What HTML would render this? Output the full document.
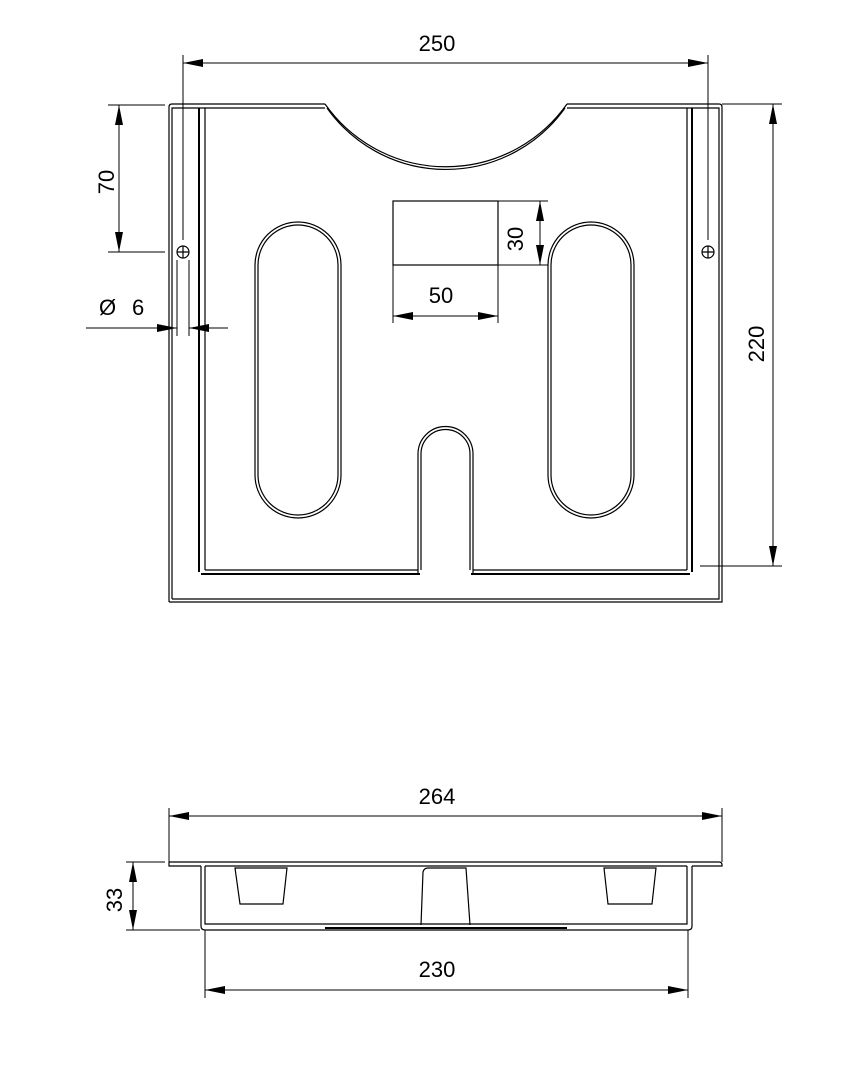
<!DOCTYPE html>
<html><head><meta charset="utf-8"><style>
html,body{margin:0;padding:0;background:#fff;}
svg{display:block}
text{font-family:"Liberation Sans",sans-serif;font-size:22px;fill:#000}
</style></head><body>
<svg width="842" height="1087" viewBox="0 0 842 1087" xmlns="http://www.w3.org/2000/svg">
<defs>
<marker id="a" viewBox="0 0 20 8" refX="20" refY="4" markerWidth="20" markerHeight="8" markerUnits="userSpaceOnUse" orient="auto-start-reverse"><path d="M0,0 L20,4 L0,8 z" fill="#000"/></marker>
</defs>
<g fill="none" stroke="#000" stroke-width="1.2">
<!-- top view outer flange -->
<path d="M169,602 V107 Q169,104 172,104 H325"/>
<path d="M172,599 V108 H325"/>
<path d="M567,104 H719 Q722,104 722,107 V602 H169"/>
<path d="M567,108 H719 V599 H172"/>
<path d="M325,104 A148,148 0 0 0 567,104"/>
<path d="M327,108 A146,146 0 0 0 565,108"/>
<!-- inner tray -->
<path d="M199,108 V572" stroke-width="2"/>
<path d="M205,108 V570"/>
<path d="M687,108 V570"/>
<path d="M692,108 V572" stroke-width="2"/>
<path d="M201,574 H420 M471,574 H690" stroke-width="2"/>
<path d="M205,570 H418 M473,570 H687"/>
<!-- slots -->
<path d="M255,265 A43,43 0 0 1 341,265 V475 A43,43 0 0 1 255,475 Z"/>
<path d="M258,265 A40,40 0 0 1 338,265 V475 A40,40 0 0 1 258,475 Z"/>
<path d="M548,265 A43,43 0 0 1 634,265 V475 A43,43 0 0 1 548,475 Z"/>
<path d="M551,265 A40,40 0 0 1 631,265 V475 A40,40 0 0 1 551,475 Z"/>
<path d="M418,574 V454 A27.5,27.5 0 0 1 473,454 V574"/>
<path d="M421,570 V454 A24.5,24.5 0 0 1 470,454 V570"/>
<rect x="393" y="201" width="105" height="64"/>
<!-- holes -->
<circle cx="183" cy="252" r="6"/><path d="M177,252 H189 M183,246 V258"/>
<circle cx="708" cy="252" r="6"/><path d="M702,252 H714 M708,246 V258"/>
</g>
<g fill="none" stroke="#000" stroke-width="1">
<!-- extension lines -->
<path d="M183,55 V240 M708,55 V240"/>
<path d="M108,105 H165 M108,252 H165"/>
<path d="M722,104 H782 M700,566 H782"/>
<path d="M498,201 H548 M498,265 H548"/>
<path d="M393,265 V323 M498,265 V323"/>
<path d="M177,260 V336 M189,260 V336"/>
<path d="M169,808 V862 M722,808 V862"/>
<path d="M126,862 H165 M126,930 H200"/>
<path d="M205,930 V998 M688,930 V998"/>
<!-- dimension lines -->
<path d="M183,63 H708" marker-start="url(#a)" marker-end="url(#a)"/>
<path d="M119,105 V252" marker-start="url(#a)" marker-end="url(#a)"/>
<path d="M773,104 V566" marker-start="url(#a)" marker-end="url(#a)"/>
<path d="M540,201 V265" marker-start="url(#a)" marker-end="url(#a)"/>
<path d="M393,316 H498" marker-start="url(#a)" marker-end="url(#a)"/>
<path d="M86,328 H177" marker-end="url(#a)"/>
<path d="M228,328 H189" marker-end="url(#a)"/>
<path d="M169,816 H722" marker-start="url(#a)" marker-end="url(#a)"/>
<path d="M133,862 V930" marker-start="url(#a)" marker-end="url(#a)"/>
<path d="M205,990 H688" marker-start="url(#a)" marker-end="url(#a)"/>
</g>
<g fill="none" stroke="#000" stroke-width="1.2">
<!-- side view -->
<path d="M169,862 H719 Q722,862 722,865 V866 H692"/>
<path d="M169,862 V866 H201"/>
<path d="M201,866 V926 Q201,930 205,930 H688 Q692,930 692,926 V866"/>
<path d="M205,866 V924 H687 V866"/>
<path d="M205,866 H687"/>
<path d="M325,928 H567" stroke-width="2"/>
<path d="M235,868 H287 L283,904 H240 Z"/>
<path d="M604,868 H656 L652,904 H608 Z"/>
<path d="M421,925 L423,872 Q424,868 428,868 H466 L470,925"/>
</g>
<text x="437" y="51" text-anchor="middle">250</text>
<text x="108" y="182" text-anchor="middle" transform="rotate(-90 108 182)" dominant-baseline="middle">70</text>
<text x="758" y="344" text-anchor="middle" transform="rotate(-90 758 344)" dominant-baseline="middle">220</text>
<text x="517" y="239" text-anchor="middle" transform="rotate(-90 517 239)" dominant-baseline="middle">30</text>
<text x="441" y="303" text-anchor="middle">50</text>
<text x="99" y="315">Ø</text>
<text x="132" y="315">6</text>
<text x="437" y="804" text-anchor="middle">264</text>
<text x="116" y="900" text-anchor="middle" transform="rotate(-90 116 900)" dominant-baseline="middle">33</text>
<text x="437" y="977" text-anchor="middle">230</text>
</svg>
</body></html>
